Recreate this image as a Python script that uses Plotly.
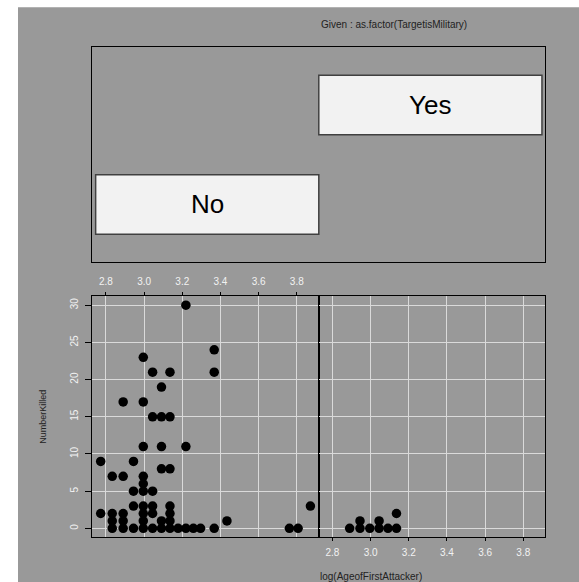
import numpy as np
import plotly.graph_objects as go

# Conditioning factor levels (one panel per level)
levels = ["No", "Yes"]

# TargetisMilitary == "No"
age_no = [16, 16,
          17, 17, 17, 17,
          18, 18, 18, 18, 18,
          19, 19, 19, 19,
          20, 20, 20, 20, 20, 20, 20, 20, 20, 20,
          21, 21, 21, 21, 21, 21,
          22, 22, 22, 22, 22, 22,
          23, 23, 23, 23, 23, 23, 23,
          24,
          25, 25, 25,
          26,
          27,
          29, 29, 29,
          31,
          43,
          45,
          48]
killed_no = [9, 2,
             7, 2, 1, 0,
             17, 7, 2, 1, 0,
             9, 5, 3, 0,
             23, 17, 11, 7, 6, 5, 3, 2, 1, 0,
             21, 15, 5, 3, 2, 0,
             19, 15, 11, 8, 1, 0,
             21, 15, 8, 3, 2, 1, 0,
             0,
             30, 11, 0,
             0,
             0,
             24, 21, 0,
             1,
             0,
             0,
             3]

# TargetisMilitary == "Yes"
age_yes = [18, 19, 19, 20, 21, 21, 22, 23, 23]
killed_yes = [0, 1, 0, 0, 1, 0, 0, 2, 0]

x_ticks = [2.8, 3.0, 3.2, 3.4, 3.6, 3.8]
y_ticks = [0, 5, 10, 15, 20, 25, 30]

W, H = 579, 582
BG = "#999999"
GRID = "#dadada"
TICKTXT = "#f2f2f2"
TXT = "#222222"
FONT = "Liberation Sans, Arial, Helvetica, sans-serif"


def px_x(p):
    return p / W


def px_y(p):
    return 1 - p / H


def padded(lo, hi, f=0.04):
    d = (hi - lo) * f
    return [lo - d, hi + d]


lx_no = np.log(age_no)
lx_yes = np.log(age_yes)
all_x = np.concatenate([lx_no, lx_yes])
all_y = killed_no + killed_yes
xr = padded(all_x.min(), all_x.max())
yr = padded(min(all_y), max(all_y))

fig = go.Figure()

marker = dict(color="black", size=9.5, line=dict(width=0))
fig.add_trace(go.Scatter(x=lx_no, y=killed_no, mode="markers", marker=marker,
                         xaxis="x2", yaxis="y2", showlegend=False))
fig.add_trace(go.Scatter(x=lx_yes, y=killed_yes, mode="markers", marker=marker,
                         xaxis="x3", yaxis="y3", showlegend=False))

frame = dict(showline=True, mirror=True, linecolor="black", linewidth=1,
             zeroline=False)
tickfont = dict(family=FONT, size=10, color=TICKTXT)

left_dom = [px_x(92.3), px_x(318.8)]
right_dom = [px_x(318.8), px_x(545.3)]
bottom_dom = [px_y(537.3), px_y(296.3)]
top_dom = [px_y(261.7), px_y(47)]

fig.update_layout(
    width=W, height=H,
    margin=dict(l=0, r=0, t=0, b=0),
    paper_bgcolor="white",
    plot_bgcolor="rgba(0,0,0,0)",
    showlegend=False,
    # given panel
    xaxis=dict(domain=[left_dom[0], right_dom[1]], range=[0.485, 2.515],
               showgrid=False, showticklabels=False, ticks="", anchor="y",
               **frame),
    yaxis=dict(domain=top_dom, range=[0.425, 2.583], showgrid=False,
               showticklabels=False, ticks="", anchor="x", **frame),
    # left scatter panel (axis labels on top)
    xaxis2=dict(domain=left_dom, range=xr, anchor="y2", side="top",
                tickvals=x_ticks, ticktext=[f"{v:.1f}" for v in x_ticks],
                ticks="outside", ticklen=3, tickcolor="black",
                tickfont=tickfont, showgrid=True, gridcolor=GRID,
                gridwidth=1, ticklabelstandoff=3, **frame),
    yaxis2=dict(domain=bottom_dom, range=yr, anchor="x2",
                tickvals=y_ticks, ticks="outside", ticklen=6,
                tickcolor="black", tickangle=-90, tickfont=tickfont,
                showgrid=True, gridcolor=GRID, gridwidth=1,
                ticklabelstandoff=3, **frame),
    # right scatter panel (axis labels on bottom)
    xaxis3=dict(domain=right_dom, range=xr, anchor="y3", side="bottom",
                tickvals=x_ticks, ticktext=[f"{v:.1f}" for v in x_ticks],
                ticks="outside", ticklen=3, tickcolor="black",
                tickfont=tickfont, showgrid=True, gridcolor=GRID,
                gridwidth=1, ticklabelstandoff=3, **frame),
    yaxis3=dict(domain=bottom_dom, range=yr, anchor="x3", tickvals=y_ticks,
                showticklabels=False, ticks="", showgrid=True,
                gridcolor=GRID, gridwidth=1, **frame),
)

# gray device background
fig.add_shape(type="rect", xref="paper", yref="paper", x0=px_x(18), x1=1,
              y0=0, y1=px_y(7.3), fillcolor=BG, line=dict(width=0),
              layer="below")

# level bars in the given panel
half_h = 0.3
for i, lab in enumerate(levels, start=1):
    fig.add_shape(type="rect", xref="x", yref="y", x0=i - 0.5, x1=i + 0.5,
                  y0=i - half_h, y1=i + half_h, fillcolor="#f2f2f2",
                  line=dict(color="#404040", width=1.5))
    fig.add_annotation(x=i, y=i, xref="x", yref="y", text=lab,
                       showarrow=False,
                       font=dict(family=FONT, size=26, color="black"))

fig.add_annotation(x=px_x(319), y=px_y(25), xref="paper", yref="paper",
                   xanchor="left", yanchor="middle", showarrow=False,
                   text="Given : as.factor(TargetisMilitary)",
                   font=dict(family=FONT, size=10, color=TXT))
fig.add_annotation(x=px_x(318.3), y=px_y(576), xref="paper", yref="paper",
                   xanchor="left", yanchor="middle", showarrow=False,
                   text="log(AgeofFirstAttacker)",
                   font=dict(family=FONT, size=10, color=TXT))
fig.add_annotation(x=px_x(42.7), y=px_y(417), xref="paper", yref="paper",
                   xanchor="center", yanchor="middle", showarrow=False,
                   textangle=-90, text="NumberKilled",
                   font=dict(family="Liberation Sans Narrow, " + FONT,
                             size=9, color=TXT))

fig.write_html("out.html")
